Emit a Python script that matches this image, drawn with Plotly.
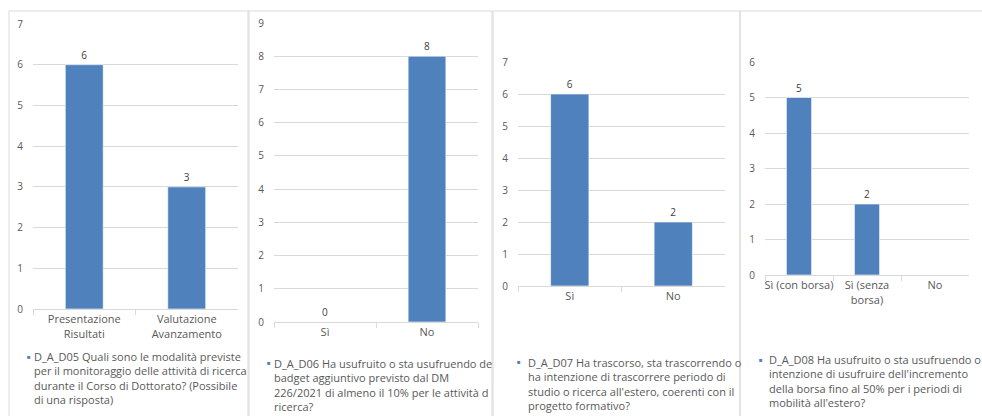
import plotly.graph_objects as go

# ---------------- data ----------------
cats_d05 = ["Presentazione<br>Risultati", "Valutazione<br>Avanzamento"]
vals_d05 = [6, 3]
cats_d06 = ["Sì", "No"]
vals_d06 = [0, 8]
cats_d07 = ["Sì", "No"]
vals_d07 = [6, 2]
cats_d08 = ["Sì (con borsa)", "Sì (senza<br>borsa)", "No"]
vals_d08 = [5, 2, None]

ymax = [7, 9, 7, 6]

legend_d05 = ["D_A_D05 Quali sono le modalità previste",
              "per il monitoraggio delle attività di ricerca",
              "durante il Corso di Dottorato? (Possibile",
              "di una risposta)"]
legend_d06 = ["D_A_D06 Ha usufruito o sta usufruendo de",
              "badget aggiuntivo previsto dal DM",
              "226/2021 di almeno il 10% per le attività d",
              "ricerca?"]
legend_d07 = ["D_A_D07 Ha trascorso, sta trascorrendo o",
              "ha intenzione di trascorrere periodo di",
              "studio o ricerca all'estero, coerenti con il",
              "progetto formativo?"]
legend_d08 = ["D_A_D08 Ha usufruito o sta usufruendo o",
              "intenzione di usufruire dell'incremento",
              "della borsa fino al 50% per i periodi di",
              "mobilità all'estero?"]

# ---------------- style / layout ----------------
W, H = 982, 416
BLUE = "#4f81bd"
GRID = "#d9d9d9"
TXT = "#595959"
FONT = "Open Sans"

# plot areas in pixels: (x0, x1, ytop, ybottom)
areas = [(33, 238, 24, 309), (274, 478, 23, 322), (518, 725, 62, 286), (765, 969, 62, 275)]
panels = [(9, 249), (248, 492), (493, 740), (740, 990)]
legend_pos = [(31.5, 29, 378, 357), (272, 269, 385, 363), (526, 519, 384, 362), (767, 761, 381, 360)]

cats = [cats_d05, cats_d06, cats_d07, cats_d08]
vals = [vals_d05, vals_d06, vals_d07, vals_d08]
legends = [legend_d05, legend_d06, legend_d07, legend_d08]

fig = go.Figure()
layout = dict(
    width=W, height=H, margin=dict(l=0, r=0, t=0, b=0, autoexpand=False),
    paper_bgcolor="white", plot_bgcolor="white",
    showlegend=False, bargap=0.63,
    font=dict(family=FONT, color=TXT, size=10),
)

shapes = []
annotations = []
for i in range(4):
    n = "" if i == 0 else str(i + 1)
    xa, ya = "x" + n, "y" + n
    fig.add_trace(go.Bar(
        x=cats[i], y=vals[i], xaxis=xa, yaxis=ya,
        marker=dict(color=BLUE, line=dict(color="#ffffff", width=0.6)),
        text=[("" if v is None else str(v)) for v in vals[i]],
        textposition="outside", cliponaxis=False,
        textfont=dict(size=10, color="#404040", family=FONT),
    ))
    x0, x1, yt, yb = areas[i]
    layout["xaxis" + n] = dict(
        domain=[x0 / W, x1 / W], anchor=ya, type="category",
        showline=True, linecolor=GRID, linewidth=1,
        ticks="outside", tickson="boundaries", ticklen=5, tickcolor=GRID,
        showgrid=False, tickangle=0, automargin=False,
        tickfont=dict(size=11, color=TXT, family=FONT),
        fixedrange=True,
    )
    layout["yaxis" + n] = dict(
        domain=[1 - yb / H, 1 - yt / H], anchor=xa, automargin=False,
        range=[0, ymax[i]], dtick=1, showgrid=True, gridcolor=GRID, gridwidth=1,
        zeroline=False, showline=False, ticklabelstandoff=9,
        tickfont=dict(size=10, color=TXT, family=FONT), fixedrange=True,
    )
    # panel border
    px0, px1 = panels[i]
    shapes.append(dict(type="rect", xref="paper", yref="paper",
                       x0=px0 / W, x1=px1 / W, y0=-0.05, y1=1 - 11 / H,
                       line=dict(color=GRID, width=1), fillcolor="rgba(0,0,0,0)",
                       layer="below"))
    # legend (series name)
    tx, mx, yc, yfirst = legend_pos[i]
    annotations.append(dict(
        xref="paper", yref="paper", x=tx / W, y=1 - yc / H,
        xanchor="left", yanchor="middle", align="left", showarrow=False,
        text="<br>".join(legends[i]),
        font=dict(size=11, color=TXT, family=FONT),
    ))
    annotations.append(dict(
        xref="paper", yref="paper", x=mx / W, y=1 - yfirst / H,
        xanchor="center", yanchor="middle", showarrow=False,
        text="■", font=dict(size=6, color=BLUE, family=FONT),
    ))

layout["shapes"] = shapes
layout["annotations"] = annotations
fig.update_layout(**layout)
fig.write_html("out.html", config={"displayModeBar": False},
               post_script="document.body.style.margin='0';document.body.style.overflow='hidden';")
